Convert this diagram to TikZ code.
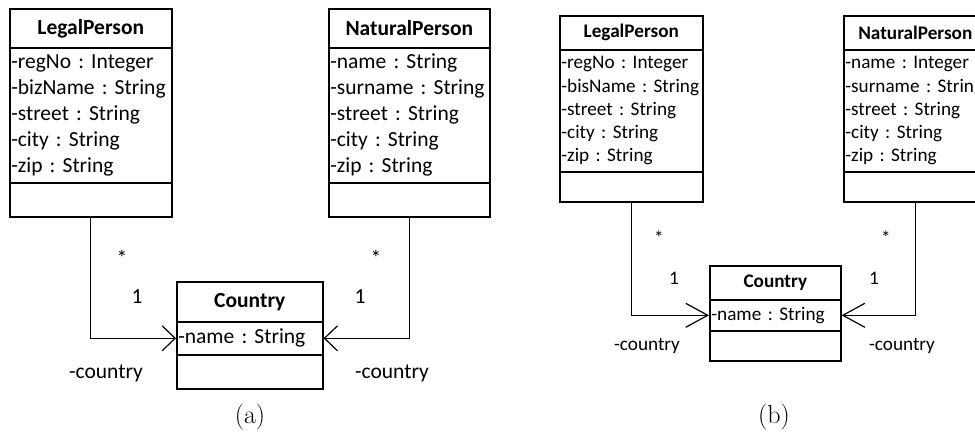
\documentclass[tikz,border=0pt]{standalone}
\usepackage{fontspec}
\newfontfamily\calib{Carlito}
\usetikzlibrary{arrows.meta}
\begin{document}
\begin{tikzpicture}[x=1pt,y=-1pt,
  part/.style={draw, line width=1.6pt, inner sep=0pt, anchor=north west},
  hdA/.style={part, font=\calib\fontsize{21.5}{26}\selectfont\bfseries},
  atA/.style={part, font=\calib\fontsize{21.5}{26}\selectfont\frenchspacing, align=left, inner xsep=1.5pt},
  hdB/.style={part, font=\calib\fontsize{19.2}{23.3}\selectfont\bfseries},
  atB/.style={part, font=\calib\fontsize{19.2}{23.3}\selectfont\frenchspacing, align=left, inner xsep=1.5pt},
  lblA/.style={font=\calib\fontsize{21.5}{26}\selectfont, inner sep=0pt},
  lblB/.style={font=\calib\fontsize{19.2}{23.3}\selectfont, inner sep=0pt},
  assocA/.style={line width=1.2pt, -{Straight Barb[length=13pt, width=25pt, line width=1.2pt]}},
  assocB/.style={line width=1.2pt, -{Straight Barb[length=22pt, width=24pt, line width=1.2pt]}},
  capt/.style={font=\fontsize{26}{30}\selectfont, inner sep=0pt, anchor=base}
]
\useasboundingbox (0,0) rectangle (975,438);
\clip (0,0) rectangle (975,438);

% ---------- (a) ----------
\node[hdA, minimum width=162, minimum height=39] (lpA-h) at (9,8) {LegalPerson};
\node[atA, minimum width=162, minimum height=135, text width=159] (lpA-a) at (9,47)
  {-regNo : Integer\\-bizName : String\\-street : String\\-city : String\\-zip : String};
\node[part, minimum width=162, minimum height=34] (lpA-m) at (9,182) {};

\node[hdA, minimum width=161, minimum height=39] (npA-h) at (328,8) {NaturalPerson};
\node[atA, minimum width=161, minimum height=135, text width=158] (npA-a) at (328,47)
  {-name : String\\-surname : String\\-street : String\\-city : String\\-zip : String};
\node[part, minimum width=161, minimum height=34] (npA-m) at (328,182) {};

\node[hdA, minimum width=146, minimum height=40] (ctA-h) at (176,281) {Country};
\node[atA, minimum width=146, minimum height=33, text width=143] (ctA-a) at (176,321)
  {-name : String};
\node[part, minimum width=146, minimum height=34] (ctA-m) at (176,354) {};

\draw[assocA] (lpA-m.south) |- (ctA-a.west);
\draw[assocA] (npA-m.south) |- (ctA-a.east);

\node[lblA] (lA-many) at (122,258) {*};
\node[lblA] (lA-one) at (137,297) {1};
\node[lblA] (lA-role) at (106,373) {-country};
\node[lblA] (rA-many) at (376,258) {*};
\node[lblA] (rA-one) at (360,297) {1};
\node[lblA] (rA-role) at (392,373) {-country};

\node[capt] (capA) at (250,423) {(a)};

% ---------- (b) ----------
\node[hdB, minimum width=143, minimum height=34] (lpB-h) at (559,15) {LegalPerson};
\node[atB, minimum width=143, minimum height=122, text width=140] (lpB-a) at (559,49)
  {-regNo : Integer\\-bisName : String\\-street : String\\-city : String\\-zip : String};
\node[part, minimum width=143, minimum height=30] (lpB-m) at (559,171) {};

\node[hdB, minimum width=143, minimum height=34] (npB-h) at (843,15) {NaturalPerson};
\node[atB, minimum width=143, minimum height=122, text width=140] (npB-a) at (843,49)
  {-name : Integer\\-surname : String\\-street : String\\-city : String\\-zip : String};
\node[part, minimum width=143, minimum height=30] (npB-m) at (843,171) {};

\node[hdB, minimum width=131, minimum height=34] (ctB-h) at (709,265) {Country};
\node[atB, minimum width=131, minimum height=31, text width=128] (ctB-a) at (709,299)
  {-name : String};
\node[part, minimum width=131, minimum height=30] (ctB-m) at (709,330) {};

\draw[assocB] (lpB-m.south) |- (ctB-a.west);
\draw[assocB] (npB-m.south) |- (ctB-a.east);

\node[lblB] (lB-many) at (659,238) {*};
\node[lblB] (lB-one) at (674,278) {1};
\node[lblB] (lB-role) at (647,346) {-country};
\node[lblB] (rB-many) at (886,238) {*};
\node[lblB] (rB-one) at (874,278) {1};
\node[lblB] (rB-role) at (902,346) {-country};

\node[capt] (capB) at (774,423) {(b)};
\end{tikzpicture}
\end{document}
